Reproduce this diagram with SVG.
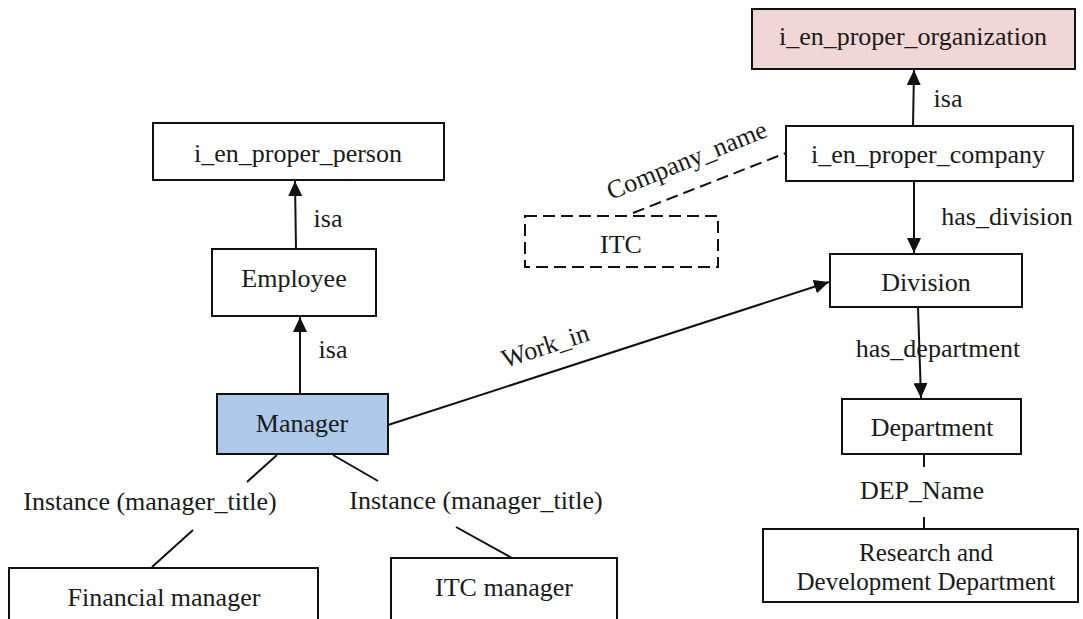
<svg xmlns="http://www.w3.org/2000/svg" width="1083" height="619" viewBox="0 0 1083 619">
<style>
  text { font-family: "Liberation Serif", "Times New Roman", serif; font-size: 26px; fill: #1a1a1a; text-anchor: middle; }
  .box { fill: #ffffff; stroke: #111; stroke-width: 2; }
  .dbox { fill: #ffffff; stroke: #111; stroke-width: 2; stroke-dasharray: 12 6; }
  .edge { stroke: #111; stroke-width: 2; fill: none; }
  .dash { stroke: #111; stroke-width: 2; fill: none; stroke-dasharray: 12 6; }
  .arr { marker-end: url(#ah); }
</style>
<defs>
  <marker id="ah" viewBox="0 0 15 14" refX="15" refY="7" markerWidth="15" markerHeight="14" markerUnits="userSpaceOnUse" orient="auto">
    <path d="M0,0 L15,7 L0,14 Z" fill="#111"/>
  </marker>
</defs>
<rect width="1083" height="619" fill="#ffffff"/>

<g id="connectors">
  <line class="edge arr" x1="913" y1="126" x2="914" y2="70"/>
  <text x="948" y="107">isa</text>
  <line class="edge arr" x1="914" y1="181" x2="914" y2="253"/>
  <text x="1007" y="225">has_division</text>
  <line class="dash" x1="633" y1="213" x2="786" y2="153"/>
  <text x="0" y="0" transform="translate(690,168) rotate(-22)">Company_name</text>
  <line class="edge arr" x1="918" y1="307" x2="921" y2="398"/>
  <text x="938" y="357">has_department</text>
  <line class="dash" x1="924" y1="455" x2="924" y2="472"/>
  <line class="dash" x1="924" y1="517" x2="924" y2="529"/>
  <text x="922" y="499">DEP_Name</text>
  <line class="edge arr" x1="296" y1="249" x2="295" y2="181"/>
  <text x="328" y="227">isa</text>
  <line class="edge arr" x1="300" y1="394" x2="300" y2="317"/>
  <text x="333" y="358">isa</text>
  <line class="edge arr" x1="388" y1="425" x2="829" y2="282"/>
  <text x="0" y="0" transform="translate(548,354) rotate(-18)">Work_in</text>
  <line class="edge" x1="277" y1="455" x2="247" y2="482"/>
  <text x="150" y="510">Instance (manager_title)</text>
  <line class="edge" x1="193" y1="530" x2="152" y2="567"/>
  <line class="edge" x1="333" y1="455" x2="378" y2="481"/>
  <text x="476" y="509">Instance (manager_title)</text>
  <line class="edge" x1="456" y1="527" x2="512" y2="558"/>
</g>

<g id="node-organization">
  <rect x="752" y="9" width="323" height="60" fill="#f1d6d6" stroke="#111" stroke-width="2"/>
  <text x="913" y="45">i_en_proper_organization</text>
</g>
<g id="node-company">
  <rect class="box" x="786" y="126" width="287" height="55"/>
  <text x="928" y="163">i_en_proper_company</text>
</g>
<g id="node-itc">
  <rect class="dbox" x="525" y="216" width="193" height="51"/>
  <text x="621" y="253">ITC</text>
</g>
<g id="node-division">
  <rect class="box" x="830" y="254" width="192" height="53"/>
  <text x="926" y="291">Division</text>
</g>
<g id="node-department">
  <rect class="box" x="842" y="399" width="179" height="55"/>
  <text x="932" y="436">Department</text>
</g>
<g id="node-rnd">
  <rect class="box" x="763" y="529" width="315" height="73"/>
  <text x="926" y="561" style="font-size:25px">Research and</text>
  <text x="926" y="590" style="font-size:25px">Development Department</text>
</g>
<g id="node-person">
  <rect class="box" x="153" y="123" width="291" height="57"/>
  <text x="298" y="162">i_en_proper_person</text>
</g>
<g id="node-employee">
  <rect class="box" x="212" y="249" width="164" height="67"/>
  <text x="294" y="287">Employee</text>
</g>
<g id="node-manager">
  <rect x="217" y="394" width="171" height="60" fill="#aec9e9" stroke="#111" stroke-width="2"/>
  <text x="302" y="432">Manager</text>
</g>
<g id="node-financial">
  <rect class="box" x="9" y="568" width="309" height="70"/>
  <text x="164" y="606">Financial manager</text>
</g>
<g id="node-itcmanager">
  <rect class="box" x="391" y="558" width="226" height="80"/>
  <text x="504" y="596">ITC manager</text>
</g>
</svg>
